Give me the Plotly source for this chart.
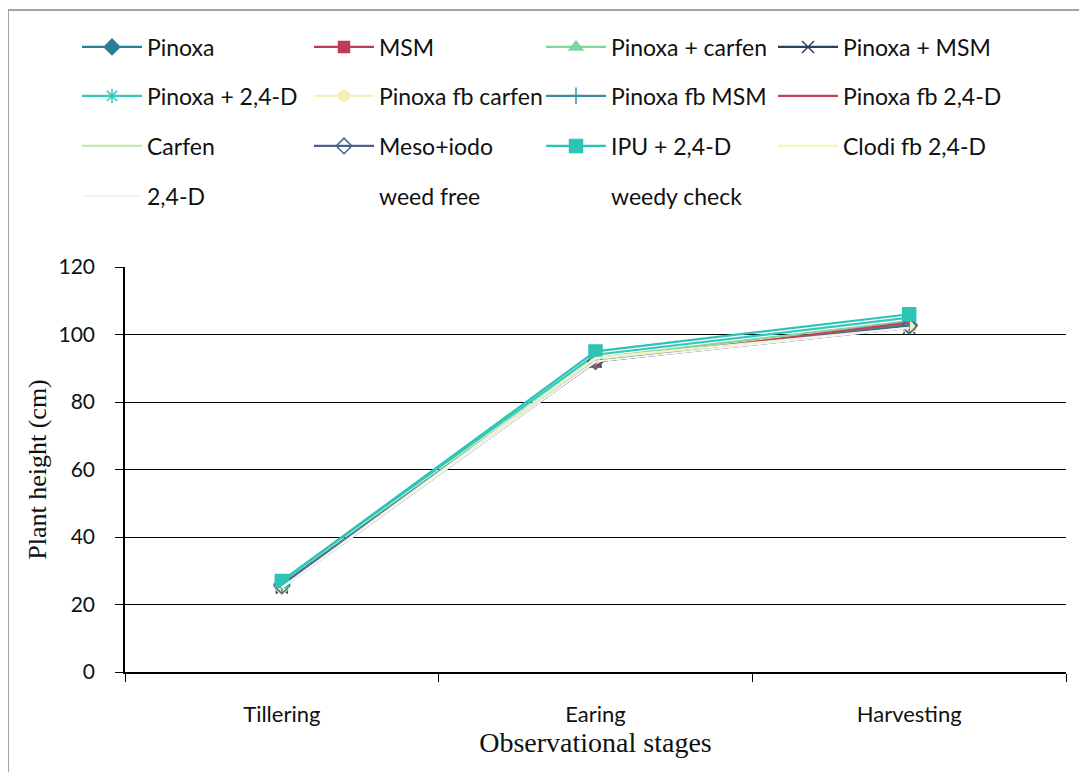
import plotly.graph_objects as go

stages = ["Tillering", "Earing", "Harvesting"]

pinoxa = [26, 92, 103]
msm = [25.5, 92, 103]
pinoxa_carfen = [26, 93, 104]
pinoxa_msm = [25, 92, 102]
pinoxa_24d = [27, 94, 105]
pinoxa_fb_carfen = [25, 93, 102]
pinoxa_fb_msm = [26, 92.5, 103]
pinoxa_fb_24d = [25.5, 92, 103.5]
carfen = [25, 92.5, 102]
meso_iodo = [25.5, 92, 102.5]
ipu_24d = [27, 95, 106]
clodi_fb_24d = [25, 93, 102]
d24 = [25, 92, 102]
weed_free = [26, 93, 103]
weedy_check = [24, 91, 101]

series = [
    ("Pinoxa", pinoxa, "#2a7f96", "diamond", 12, "legend"),
    ("MSM", msm, "#c23a55", "square", 11, "legend"),
    ("Pinoxa + carfen", pinoxa_carfen, "#7fd6a0", "triangle-up", 12, "legend"),
    ("Pinoxa + MSM", pinoxa_msm, "#2d4060", "x-thin-open", 12, "legend"),
    ("Pinoxa + 2,4-D", pinoxa_24d, "#35c8bc", "asterisk-open", 12, "legend2"),
    ("Pinoxa fb carfen", pinoxa_fb_carfen, "#f5f0b8", "circle", 11, "legend2"),
    ("Pinoxa fb MSM", pinoxa_fb_msm, "#3a8ca6", "line-ns-open", 12, "legend2"),
    ("Pinoxa fb 2,4-D", pinoxa_fb_24d, "#c6405e", None, 0, "legend2"),
    ("Carfen", carfen, "#c0e8b0", None, 0, "legend3"),
    ("Meso+iodo", meso_iodo, "#4a6488", "diamond-open", 12, "legend3"),
    ("IPU + 2,4-D", ipu_24d, "#2ec4b4", "square", 13, "legend3"),
    ("Clodi fb 2,4-D", clodi_fb_24d, "#f6f2c4", None, 0, "legend3"),
    ("2,4-D", d24, "#eef6f6", None, 0, "legend4"),
    ("weed free", weed_free, "rgba(255,255,255,0)", None, 0, "legend4"),
    ("weedy check", weedy_check, "rgba(255,255,255,0)", None, 0, "legend4"),
]

fig = go.Figure()
for name, vals, color, sym, size, lg in series:
    kw = dict(mode="lines")
    if sym:
        kw = dict(mode="lines+markers",
                  marker=dict(symbol=sym, size=size, color=color,
                              line=dict(color=color, width=1.5)))
    fig.add_trace(go.Scatter(x=stages, y=vals, name=name,
                             line=dict(color=color, width=2.2),
                             legend=lg, **kw))

OFF = 8  # page body margin
W, H = 1087 - OFF, 772 - OFF
# target screen geometry
sx0, sx1, sy0, sy1 = 125, 1066, 267, 672
L = sx0 - OFF
R = W - (sx1 - OFF)
T = sy0 - OFF
B = H - (sy1 - OFF)
pw, ph = W - L - R, H - T - B

def py(screen_y):
    return (H - B - (screen_y - OFF)) / ph

def px(screen_x):
    return ((screen_x - OFF) - L) / pw

sans = "Lato, Open Sans, sans-serif"
serif = "Liberation Serif, Times New Roman, serif"

leg_common = dict(orientation="h", entrywidth=157, entrywidthmode="pixels",
                  itemwidth=60, xanchor="left", yanchor="middle",
                  x=px(77), font=dict(family=sans, size=23, color="#111"),
                  bgcolor="rgba(0,0,0,0)", traceorder="normal", itemclick=False)

fig.update_layout(
    width=W, height=H,
    margin=dict(l=L, r=R, t=T, b=B),
    paper_bgcolor="white", plot_bgcolor="white",
    legend=dict(y=py(47), **leg_common),
    legend2=dict(y=py(96), **leg_common),
    legend3=dict(y=py(146), **leg_common),
    legend4=dict(y=py(196), **leg_common),
    xaxis=dict(
        type="category", tickson="boundaries", ticks="outside", ticklen=8,
        tickcolor="black", showline=True, linecolor="black", linewidth=1.5,
        showgrid=False, ticklabelstandoff=22,
        tickfont=dict(family=sans, size=22, color="#111"),
        title=dict(text="Observational stages",
                   font=dict(family=serif, size=28, color="#111"),
                   standoff=2),
        range=[-0.5, 2.5],
    ),
    yaxis=dict(
        range=[0, 120], dtick=20, ticks="outside", ticklen=8, tickcolor="black",
        showline=True, linecolor="black", linewidth=1.5,
        showgrid=True, gridcolor="black", gridwidth=1.2,
        zeroline=True, zerolinecolor="black", ticklabelstandoff=16,
        tickfont=dict(family=sans, size=21, color="#111"),
        title=dict(text="Plant height (cm)",
                   font=dict(family=serif, size=26, color="#111"),
                   standoff=4),
    ),
    shapes=[dict(type="rect", xref="paper", yref="paper",
                 x0=px(8), x1=px(1095), y0=py(790), y1=py(10),
                 line=dict(color="#888", width=1.5), fillcolor="rgba(0,0,0,0)",
                 layer="below")],
)

fig.write_html("out.html")
